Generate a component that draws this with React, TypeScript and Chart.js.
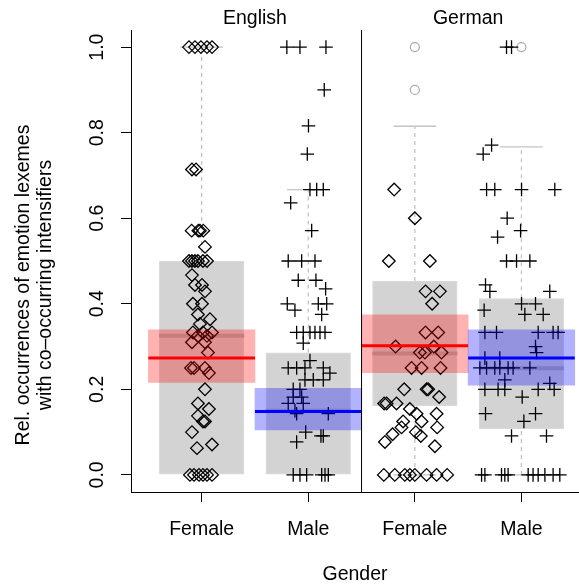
import React, { useEffect, useRef } from "react";
import { Chart, registerables } from "chart.js";
Chart.register(...registerables);

const panels = ["English", "German"];
const panelCenters = [1.5, 3.5];
const genders = ["Female", "Male", "Female", "Male"];
const groupPositions = [1, 2, 3, 4];
const yTicks = [0, 0.2, 0.4, 0.6, 0.8, 1.0];
const yTitle = ["Rel. occurrences of emotion lexemes", "with co\u2013occurring intensifiers"];
const xTitle = "Gender";

// English – Female (diamonds)
const efValues = [1, 1, 1, 1, 1, 0.714, 0.714, 0.571, 0.571, 0.571, 0.571, 0.533, 0.5, 0.5, 0.5, 0.5, 0.5, 0.5, 0.467, 0.444, 0.444, 0.429, 0.4, 0.4, 0.375, 0.364, 0.353, 0.333, 0.333, 0.333, 0.325, 0.325, 0.31, 0.31, 0.286, 0.25, 0.25, 0.25, 0.238, 0.2, 0.167, 0.154, 0.138, 0.125, 0.125, 0.1, 0.071, 0.0625, 0, 0, 0, 0, 0, 0];
const efJitter = [-0.119, -0.063, -0.007, 0.05, 0.097, -0.091, -0.053, -0.094, -0.031, -0.016, 0.015, 0.031, -0.119, -0.091, -0.063, -0.035, 0.012, 0.05, -0.091, -0.063, 0.003, 0.031, -0.082, 0.003, -0.035, 0.078, -0.016, -0.082, 0.012, 0.097, -0.035, 0.05, -0.091, 0.031, 0.059, -0.1, -0.072, 0.031, 0.068, 0.031, -0.035, 0.068, -0.035, 0.012, 0.031, -0.091, 0.097, -0.044, -0.11, -0.072, -0.025, 0.012, 0.05, 0.097];

// English – Male (crosses)
const emValues = [1, 1, 1, 0.9, 0.816, 0.75, 0.667, 0.667, 0.667, 0.636, 0.571, 0.5, 0.5, 0.5, 0.455, 0.455, 0.435, 0.4, 0.4, 0.4, 0.385, 0.375, 0.333, 0.333, 0.333, 0.333, 0.333, 0.333, 0.308, 0.267, 0.25, 0.25, 0.25, 0.25, 0.238, 0.222, 0.222, 0.222, 0.2, 0.2, 0.182, 0.182, 0.167, 0.167, 0.15, 0.143, 0.143, 0.1, 0.091, 0.091, 0.077, 0, 0, 0, 0, 0, 0];
const emJitter = [-0.201, -0.078, 0.166, 0.15, 0.002, -0.009, 0.016, 0.079, 0.141, -0.165, 0.032, -0.188, -0.062, 0.063, -0.094, 0.072, 0.163, -0.197, 0.094, 0.173, -0.125, 0.126, -0.109, -0.047, 0.016, 0.063, 0.11, 0.157, -0.047, 0.016, -0.188, -0.109, -0.031, 0.141, 0.203, -0.031, 0.047, 0.141, -0.141, -0.078, -0.141, -0.062, -0.188, -0.047, -0.125, -0.109, 0.188, -0.024, 0.119, 0.141, -0.109, -0.141, -0.078, -0.015, 0.126, 0.157, 0.188];

// German – Female (diamonds)
const gfValues = [0.667, 0.6, 0.5, 0.5, 0.429, 0.429, 0.4, 0.333, 0.333, 0.3, 0.3, 0.286, 0.286, 0.286, 0.25, 0.25, 0.25, 0.2, 0.2, 0.2, 0.182, 0.167, 0.167, 0.167, 0.154, 0.143, 0.143, 0.125, 0.125, 0.111, 0.111, 0.1, 0.095, 0.091, 0.077, 0.067, 0, 0, 0, 0, 0, 0, 0, 0];
const gfJitter = [-0.194, 0, -0.244, 0.141, 0.1, 0.235, 0.162, 0.1, 0.219, -0.181, 0.178, 0.047, 0.094, 0.25, -0.031, 0.063, 0.241, -0.1, 0.11, 0.125, 0.228, -0.288, -0.265, -0.172, -0.047, 0.016, 0.204, 0.063, -0.11, -0.125, 0.209, 0.009, -0.209, 0.056, -0.281, 0.188, -0.291, -0.188, -0.094, -0.047, 0, 0.11, 0.204, 0.303];

// German – Male (crosses)
const gmValues = [1, 1, 0.771, 0.75, 0.667, 0.667, 0.667, 0.667, 0.6, 0.571, 0.556, 0.5, 0.5, 0.5, 0.444, 0.429, 0.429, 0.4, 0.4, 0.385, 0.375, 0.375, 0.333, 0.333, 0.333, 0.333, 0.333, 0.3, 0.286, 0.273, 0.273, 0.25, 0.25, 0.25, 0.25, 0.25, 0.25, 0.25, 0.222, 0.214, 0.2, 0.2, 0.2, 0.2, 0.2, 0.182, 0.143, 0.143, 0.125, 0.091, 0.091, 0, 0, 0, 0, 0, 0, 0, 0, 0, 0, 0];
const gmJitter = [-0.14, -0.093, -0.28, -0.359, -0.327, -0.25, 0.001, 0.313, -0.134, -0.008, -0.224, -0.14, -0.046, 0.079, -0.337, -0.296, 0.266, 0.001, 0.132, -0.35, 0.032, 0.204, -0.343, -0.234, 0.157, 0.297, 0.344, 0.132, 0.142, -0.343, -0.203, -0.39, -0.327, -0.25, -0.203, -0.125, -0.078, 0.079, -0.156, 0.266, -0.343, -0.219, -0.156, 0.157, 0.307, 0.007, -0.337, 0.132, 0.023, -0.093, 0.235, -0.374, -0.343, -0.187, -0.156, -0.125, 0.063, 0.109, 0.157, 0.22, 0.297, 0.36];

// box plot statistics per group
const boxQ1 = [0, 0, 0.161, 0.107];
const boxMedian = [0.325, 0.15, 0.284, 0.249];
const boxQ3 = [0.5, 0.286, 0.453, 0.413];
const whiskerLow = [0, 0, 0, 0];
const whiskerHigh = [1.0, 0.667, 0.815, 0.767];
const outlierGroups = [3, 3, 4];
const outlierValues = [1.0, 0.9, 1.0];

// means with confidence intervals
const meanValues = [0.273, 0.148, 0.302, 0.273];
const ciLow = [0.216, 0.105, 0.239, 0.21];
const ciHigh = [0.339, 0.2025, 0.374, 0.339];

const X_MIN = 0.337;
const X_MAX = 4.54;
const FONT = 19.5;
const FAMILY = "'Liberation Sans', Arial, sans-serif";

function seg(x1: number, y1: number, x2: number, y2: number, color: string, width: number, dash: number[], order: number) {
  return {
    type: "line" as const,
    data: [{ x: x1, y: y1 }, { x: x2, y: y2 }],
    borderColor: color,
    borderWidth: width,
    borderDash: dash,
    pointRadius: 0,
    fill: false,
    tension: 0,
    order,
  };
}

function buildDatasets() {
  const ds: any[] = [];
  ds.push({
    type: "bar",
    data: groupPositions.map((x, i) => ({ x, y: [boxQ1[i], boxQ3[i]] })),
    backgroundColor: "rgba(128,128,128,0.35)",
    borderColor: "rgba(128,128,128,0.3)",
    borderWidth: 1,
    borderSkipped: false,
    categoryPercentage: 1,
    barPercentage: 0.8,
    grouped: false,
    order: 10,
  });
  groupPositions.forEach((x, i) => {
    ds.push(seg(x - 0.4, boxMedian[i], x + 0.4, boxMedian[i], "rgba(140,140,140,0.45)", 4, [], 9));
    if (whiskerHigh[i] > boxQ3[i]) {
      ds.push(seg(x, boxQ3[i], x, whiskerHigh[i], "#c4c4c4", 1.3, [4, 4], 8));
      ds.push(seg(x - 0.2, whiskerHigh[i], x + 0.2, whiskerHigh[i], "#c4c4c4", 1.3, [], 8));
    }
    if (whiskerLow[i] < boxQ1[i]) {
      ds.push(seg(x, whiskerLow[i], x, boxQ1[i], "#c4c4c4", 1.3, [4, 4], 8));
      ds.push(seg(x - 0.2, whiskerLow[i], x + 0.2, whiskerLow[i], "#c4c4c4", 1.3, [], 8));
    }
  });
  ds.push({
    type: "scatter",
    data: outlierGroups.map((g, i) => ({ x: g, y: outlierValues[i] })),
    pointStyle: "circle",
    pointRadius: 4.5,
    borderColor: "#aaaaaa",
    backgroundColor: "rgba(0,0,0,0)",
    borderWidth: 1.2,
    order: 7,
  });
  const groups = [
    { c: 1, v: efValues, j: efJitter, s: "rectRot", r: 6.3 },
    { c: 2, v: emValues, j: emJitter, s: "cross", r: 6.8 },
    { c: 3, v: gfValues, j: gfJitter, s: "rectRot", r: 6.3 },
    { c: 4, v: gmValues, j: gmJitter, s: "cross", r: 6.8 },
  ];
  groups.forEach((g) => {
    ds.push({
      type: "scatter",
      data: g.v.map((v, k) => ({ x: g.c + g.j[k], y: v })),
      pointStyle: g.s,
      pointRadius: g.r,
      borderColor: "#000",
      backgroundColor: "rgba(0,0,0,0)",
      borderWidth: 1.3,
      order: 5,
    });
  });
  ds.push({
    type: "bar",
    data: groupPositions.map((x, i) => ({ x, y: [ciLow[i], ciHigh[i]] })),
    backgroundColor: groupPositions.map((_, i) => (i % 2 === 0 ? "rgba(255,0,0,0.3)" : "rgba(0,0,255,0.3)")),
    borderWidth: 0,
    categoryPercentage: 1,
    barPercentage: 1,
    grouped: false,
    order: 3,
  });
  groupPositions.forEach((x, i) => {
    ds.push(seg(x - 0.5, meanValues[i], x + 0.5, meanValues[i], i % 2 === 0 ? "#ff0000" : "#0000ff", 3, [], 2));
  });
  const sep = (groupPositions[1] + groupPositions[2]) / 2;
  ds.push(seg(sep, -0.04, sep, 1.04, "#000", 1, [], 1));
  return ds;
}

// y-axis title, drawn beside the y scale and centred a little below the middle of the plot
const yTitlePlugin = {
  id: "yTitleLines",
  afterDraw(chart: any) {
    const { ctx, chartArea } = chart;
    const cy = (chartArea.top + chartArea.bottom) / 2 + 24;
    ctx.save();
    ctx.fillStyle = "#000";
    ctx.font = `${FONT}px ${FAMILY}`;
    ctx.textAlign = "center";
    ctx.textBaseline = "middle";
    ctx.translate(24, cy);
    ctx.rotate(-Math.PI / 2);
    yTitle.forEach((line, i) => ctx.fillText(line, 0, i * 22));
    ctx.restore();
  },
};

export default function App() {
  const ref = useRef<HTMLCanvasElement>(null);
  useEffect(() => {
    if (!ref.current) return;
    Chart.defaults.font.family = FAMILY;
    const chart = new Chart(ref.current, {
      type: "scatter",
      data: { datasets: buildDatasets() },
      plugins: [yTitlePlugin],
      options: {
        animation: false,
        responsive: false,
        events: [],
        layout: { padding: 0, autoPadding: false },
        plugins: { legend: { display: false }, tooltip: { enabled: false } },
        scales: {
          x: {
            type: "linear",
            position: "bottom",
            min: X_MIN,
            max: X_MAX,
            offset: false,
            afterBuildTicks: (s: any) => {
              s.ticks = groupPositions.map((v) => ({ value: v }));
            },
            ticks: {
              callback: (_v: any, i: number) => genders[i],
              font: { size: FONT },
              color: "#000",
              padding: 16,
              maxRotation: 0,
              autoSkip: false,
            },
            grid: { offset: false, drawOnChartArea: false, drawTicks: true, tickLength: 10, color: "#000", lineWidth: 1 },
            border: { display: true, color: "#000", width: 1 },
            title: { display: true, text: xTitle, color: "#000", font: { size: FONT, lineHeight: 1 }, padding: { top: 0, bottom: 2 } },
            afterFit: (s: any) => {
              s.height = 94;
            },
          },
          x2: {
            type: "linear",
            position: "top",
            min: X_MIN,
            max: X_MAX,
            offset: false,
            afterBuildTicks: (s: any) => {
              s.ticks = panelCenters.map((v) => ({ value: v }));
            },
            ticks: {
              callback: (_v: any, i: number) => panels[i],
              font: { size: FONT },
              color: "#000",
              padding: 0,
              maxRotation: 0,
              autoSkip: false,
            },
            grid: { offset: false, display: false, drawTicks: false },
            border: { display: false },
            afterFit: (s: any) => {
              s.height = 30;
            },
          },
          y: {
            type: "linear",
            min: -0.04,
            max: 1.04,
            afterBuildTicks: (s: any) => {
              s.ticks = yTicks.map((v) => ({ value: v }));
            },
            ticks: {
              callback: (v: any) => Number(v).toFixed(1),
              font: { size: FONT },
              color: "#000",
              padding: 9.5,
              minRotation: 90,
              maxRotation: 90,
              crossAlign: "center",
              autoSkip: false,
            },
            grid: { drawOnChartArea: false, tickLength: 10, color: "#000", lineWidth: 1 },
            border: { display: true, color: "#000", width: 1 },
            title: { display: false },
            afterFit: (s: any) => {
              s.width = 131;
            },
          },
        },
      } as any,
    });
    return () => chart.destroy();
  }, []);
  return (
    <div style={{ position: "fixed", left: 0, top: 0, width: 579, height: 586, background: "#fff" }}>
      <canvas ref={ref} width={579} height={586} style={{ display: "block", width: 579, height: 586 }} />
    </div>
  );
}
